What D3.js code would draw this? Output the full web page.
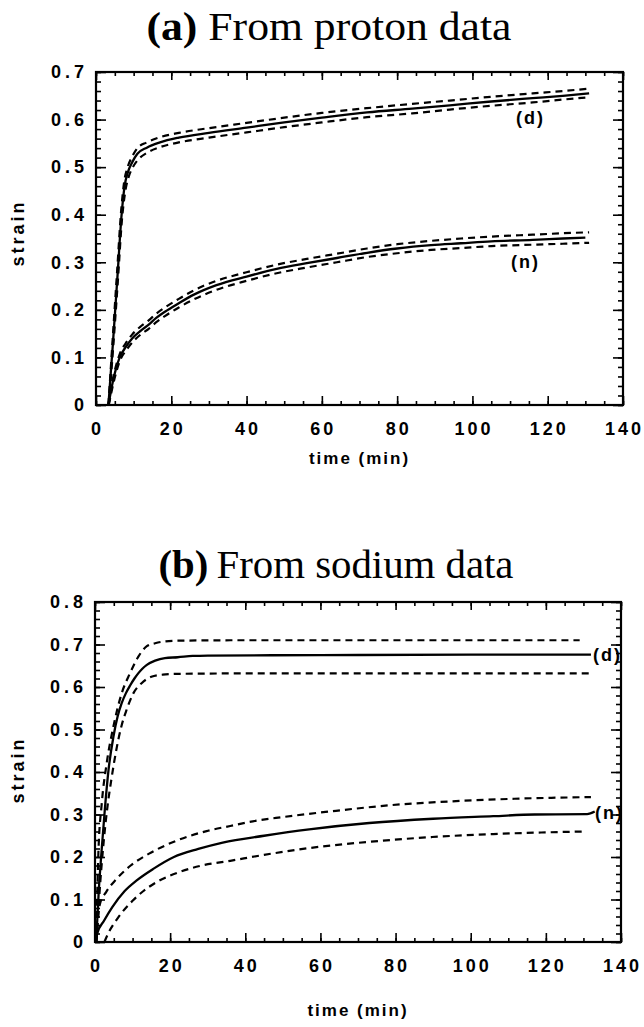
<!DOCTYPE html>
<html>
<head>
<meta charset="utf-8">
<script src="https://cdn.jsdelivr.net/npm/d3@7"></script>
<style>
  body { margin: 0; background: #fff; }
  .tick-label { font-family: "Liberation Sans", Arial, sans-serif; font-weight: bold; font-size: 18px; }
  .axis-title { font-family: "Liberation Sans", Arial, sans-serif; font-weight: bold; font-size: 17px; }
  .curve-label { font-family: "Liberation Sans", Arial, sans-serif; font-weight: bold; font-size: 18px; }
  .title { font-family: "Liberation Serif", "Times New Roman", serif; font-size: 40px; }
  .curve { fill: none; stroke: #000; }
</style>
</head>
<body>
<svg id="chart" width="644" height="1027"></svg>
<script>
// ticks
var xTicks = [0, 20, 40, 60, 80, 100, 120, 140];
var yTicksA = [0, 0.1, 0.2, 0.3, 0.4, 0.5, 0.6, 0.7];
var yTicksB = [0, 0.1, 0.2, 0.3, 0.4, 0.5, 0.6, 0.7, 0.8];

// (a) proton data, [time (min), strain]
var aD = [[3.3,0],[4.5,0.13],[5.7,0.27],[6.8,0.40],[7.6,0.46],[8.5,0.49],[9.6,0.51],[11,0.528],[13.5,0.541],[17,0.552],[22,0.562],[30,0.572],[40,0.583],[50,0.594],[60,0.604],[72,0.615],[84,0.623],[94,0.630],[105,0.638],[116,0.645],[124,0.650],[131,0.655]];
var aDHigh = [[3.3,0],[4.4,0.135],[5.6,0.28],[6.7,0.41],[7.5,0.47],[8.4,0.50],[9.6,0.522],[11,0.540],[13.5,0.552],[17,0.563],[22,0.572],[30,0.582],[40,0.593],[50,0.604],[60,0.614],[72,0.624],[84,0.633],[94,0.640],[105,0.648],[116,0.655],[124,0.660],[131,0.665]];
var aDLow = [[3.4,0],[4.6,0.125],[5.8,0.26],[6.9,0.39],[7.8,0.45],[8.7,0.48],[9.8,0.50],[11.2,0.516],[13.5,0.530],[17,0.542],[22,0.552],[30,0.562],[40,0.573],[50,0.584],[60,0.594],[72,0.605],[84,0.613],[94,0.621],[105,0.629],[116,0.636],[124,0.642],[131,0.647]];
var aN = [[3.3,0],[4.5,0.05],[6.3,0.10],[8,0.123],[9.6,0.14],[12,0.157],[14,0.169],[16,0.183],[18.3,0.196],[22,0.214],[26,0.232],[32,0.252],[40,0.270],[48,0.286],[56,0.298],[64,0.309],[72,0.320],[80,0.329],[89,0.336],[97,0.340],[105,0.344],[116,0.347],[124,0.350],[130,0.352]];
var aNHigh = [[3.3,0],[4.5,0.055],[6.3,0.107],[8,0.131],[9.6,0.148],[12,0.166],[14,0.178],[16,0.192],[18.3,0.205],[22,0.223],[26,0.241],[32,0.261],[40,0.279],[48,0.295],[56,0.307],[64,0.318],[72,0.329],[80,0.338],[89,0.345],[97,0.350],[105,0.354],[116,0.358],[124,0.361],[131,0.363]];
var aNLow = [[3.4,0],[4.6,0.045],[6.4,0.094],[8.1,0.116],[9.7,0.132],[12,0.149],[14,0.160],[16,0.174],[18.3,0.187],[22,0.205],[26,0.222],[32,0.242],[40,0.261],[48,0.277],[56,0.289],[64,0.300],[72,0.311],[80,0.319],[89,0.326],[97,0.330],[105,0.334],[116,0.337],[124,0.339],[131,0.341]];

// (b) sodium data
var bD = [[0.3,0],[1.0,0.12],[1.8,0.22],[2.6,0.31],[3.6,0.405],[4.9,0.483],[6,0.53],[7.1,0.562],[8.2,0.585],[9.3,0.603],[10.5,0.620],[11.5,0.632],[12.6,0.643],[13.8,0.652],[16,0.662],[18.6,0.668],[22,0.670],[26,0.673],[30,0.674],[60,0.675],[100,0.676],[132,0.676]];
var bDHigh = [[0.3,0],[0.9,0.209],[1.8,0.326],[3.1,0.42],[4.9,0.507],[7.1,0.585],[9.3,0.632],[11.5,0.671],[13.8,0.696],[16,0.703],[18.2,0.707],[22,0.709],[40,0.710],[129,0.710]];
var bDLow = [[0.4,0],[1.4,0.14],[2.3,0.235],[3.2,0.31],[4.4,0.385],[5.8,0.458],[7.1,0.510],[8.4,0.546],[10.2,0.585],[12.4,0.609],[15,0.624],[18,0.629],[22.6,0.631],[40,0.632],[132,0.632]];
var bN = [[0.2,0],[0.6,0.02],[2.4,0.05],[4.6,0.082],[7.9,0.12],[11.1,0.145],[15.5,0.172],[21,0.200],[27.5,0.219],[34,0.234],[45,0.250],[57,0.265],[73,0.280],[90,0.290],[106,0.296],[117,0.300],[131,0.301],[133,0.307]];
var bNHigh = [[0.3,0],[1.3,0.089],[3,0.118],[5.7,0.148],[9.5,0.180],[14.4,0.208],[21,0.236],[29.7,0.261],[36,0.273],[42,0.284],[50,0.294],[62.4,0.307],[78.8,0.322],[95,0.331],[111.6,0.337],[132,0.341]];
var bNLow = [[2.5,0],[3.5,0.02],[6.2,0.058],[10,0.097],[12.9,0.120],[16.6,0.142],[22.6,0.165],[28,0.179],[36,0.191],[45,0.205],[57,0.221],[73.4,0.236],[89.7,0.247],[106,0.254],[130,0.260]];

var svg = d3.select("#chart");
svg.append("rect").attr("width", 644).attr("height", 1027).attr("fill", "#fff");

function draw_panel(p) {
  var x = d3.scaleLinear().domain([0, 140]).range([p.left, p.right]);
  var y = d3.scaleLinear().domain([0, p.ymax]).range([p.bottom, p.top]);
  var g = svg.append("g");
  var w = p.right - p.left, h = p.bottom - p.top;

  var xMinor = d3.range(0, 141, 5);
  var yMinor = d3.range(0, Math.round(p.ymax * 50) + 1).map(function(i) { return i / 50; });

  // minor ticks on all four sides
  g.append("g").attr("transform", "translate(0," + p.bottom + ")")
    .call(d3.axisBottom(x).tickValues(xMinor).tickSize(-4).tickFormat(""));
  g.append("g").attr("transform", "translate(0," + p.top + ")")
    .call(d3.axisTop(x).tickValues(xMinor).tickSize(-4).tickFormat(""));
  g.append("g").attr("transform", "translate(" + p.left + ",0)")
    .call(d3.axisLeft(y).tickValues(yMinor).tickSize(-5).tickFormat(""));
  g.append("g").attr("transform", "translate(" + p.right + ",0)")
    .call(d3.axisRight(y).tickValues(yMinor).tickSize(-5).tickFormat(""));

  // major ticks with labels
  var xb = g.append("g").attr("transform", "translate(0," + p.bottom + ")")
    .call(d3.axisBottom(x).tickValues(xTicks).tickSize(-9).tickPadding(17).tickFormat(d3.format("d")));
  xb.selectAll("text").attr("class", "tick-label").style("letter-spacing", "3px").attr("dx", 1);
  g.append("g").attr("transform", "translate(0," + p.top + ")")
    .call(d3.axisTop(x).tickValues(xTicks).tickSize(-8).tickFormat(""));
  var yl = g.append("g").attr("transform", "translate(" + p.left + ",0)")
    .call(d3.axisLeft(y).tickValues(p.yTicks).tickSize(-10).tickPadding(8).tickFormat(function(d) { return d === 0 ? "0" : d3.format(".1f")(d); }));
  yl.selectAll("text").attr("class", "tick-label").style("letter-spacing", "4px");
  g.append("g").attr("transform", "translate(" + p.right + ",0)")
    .call(d3.axisRight(y).tickValues(p.yTicks).tickSize(-10).tickFormat(""));

  g.selectAll(".domain").remove();
  g.selectAll(".tick line").attr("stroke", "#000").attr("stroke-width", 1.6);
  g.selectAll(".tick text").attr("fill", "#000").attr("font-family", null).attr("font-size", null);

  g.append("rect").attr("x", p.left).attr("y", p.top).attr("width", w).attr("height", h)
    .attr("fill", "none").attr("stroke", "#000").attr("stroke-width", 2.2);

  var line = d3.line().x(function(d) { return x(d[0]); }).y(function(d) { return y(d[1]); })
    .curve(d3.curveMonotoneX);

  p.series.forEach(function(s) {
    g.append("path").datum(s.data).attr("class", "curve").attr("d", line)
      .attr("stroke-width", s.dashed ? 2.2 : 2.3)
      .attr("stroke-dasharray", s.dashed ? "7,5" : null);
  });

  p.labels.forEach(function(l) {
    g.append("text").attr("class", "curve-label").attr("x", l.x).attr("y", l.y)
      .attr("dy", "0.35em").style("letter-spacing", "2px").text(l.text);
  });

  // titles
  var t = svg.append("text").attr("class", "title").attr("x", p.titleX).attr("y", p.titleY)
    .attr("text-anchor", "middle").attr("textLength", p.titleW).attr("lengthAdjust", "spacingAndGlyphs");
  t.append("tspan").attr("font-weight", "bold").text(p.titleTag);
  t.append("tspan").text(p.titleText);

  svg.append("text").attr("class", "axis-title").attr("text-anchor", "middle")
    .attr("x", (p.left + p.right) / 2).attr("y", p.xTitleY).attr("dy", "0.35em")
    .style("letter-spacing", "2px").text("time  (min)");
  svg.append("text").attr("class", "axis-title").attr("text-anchor", "middle")
    .attr("transform", "translate(18," + p.yTitleY + ") rotate(-90)").attr("dy", "0.35em")
    .style("font-size", "18px").style("letter-spacing", "3px").text("strain");
}

draw_panel({
  left: 96, right: 623, top: 72, bottom: 405, ymax: 0.7, yTicks: yTicksA,
  titleX: 329, titleY: 40, titleW: 365, titleTag: "(a)", titleText: " From proton data",
  xTitleY: 458, yTitleY: 233,
  series: [
    { data: aDHigh, dashed: true }, { data: aDLow, dashed: true }, { data: aD, dashed: false },
    { data: aNHigh, dashed: true }, { data: aNLow, dashed: true }, { data: aN, dashed: false }
  ],
  labels: [{ text: "(d)", x: 516, y: 118 }, { text: "(n)", x: 511, y: 262 }]
});

draw_panel({
  left: 95, right: 621, top: 602, bottom: 942, ymax: 0.8, yTicks: yTicksB,
  titleX: 336, titleY: 578, titleW: 355, titleTag: "(b)", titleText: "\u2009From sodium data",
  xTitleY: 1010, yTitleY: 770,
  series: [
    { data: bDHigh, dashed: true }, { data: bDLow, dashed: true }, { data: bD, dashed: false },
    { data: bNHigh, dashed: true }, { data: bNLow, dashed: true }, { data: bN, dashed: false }
  ],
  labels: [{ text: "(d)", x: 593, y: 655 }, { text: "(n)", x: 595, y: 813 }]
});
</script>
</body>
</html>
